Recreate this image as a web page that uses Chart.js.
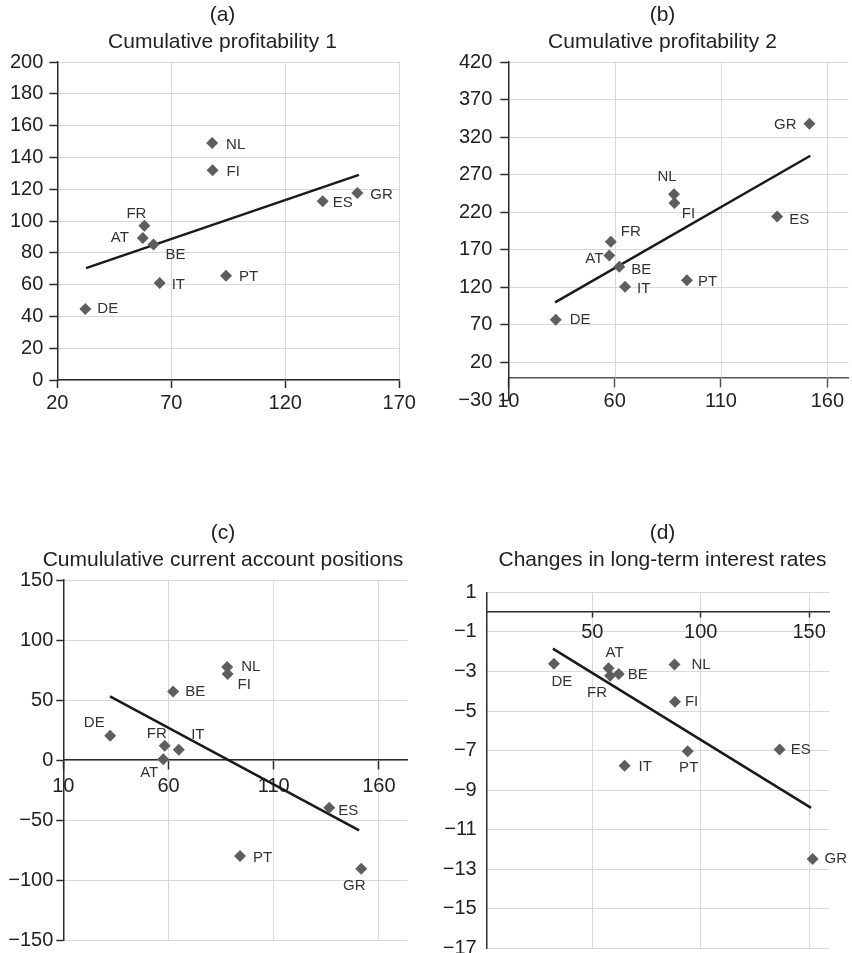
<!DOCTYPE html>
<html>
<head>
<meta charset="utf-8">
<script src="https://cdn.jsdelivr.net/npm/chart.js@4/dist/chart.umd.min.js"></script>
<style>
  html, body { margin: 0; padding: 0; background: #fff; overflow: hidden; }
  #page { position: relative; width: 852px; height: 953px; overflow: hidden; background: #fff; }
  canvas { position: absolute; }
</style>
</head>
<body>
<div id="page">
  <canvas id="chartA" width="445" height="440" style="left:0px;top:0px"></canvas>
  <canvas id="chartB" width="445" height="440" style="left:440px;top:0px"></canvas>
  <canvas id="chartC" width="446" height="460" style="left:0px;top:518px"></canvas>
  <canvas id="chartD" width="445" height="460" style="left:440px;top:518px"></canvas>
</div>
<script>
// Euro-area countries and their common horizontal-axis values
const countries = ['AT', 'BE', 'DE', 'ES', 'FI', 'FR', 'GR', 'IT', 'NL', 'PT'];
const xValues = [57.5, 62.2, 32.3, 136.4, 88.1, 58.2, 151.6, 64.9, 87.9, 94.0];

// Vertical-axis values per panel
const profitability1 = [89.3, 85.3, 44.6, 112.4, 132, 97, 117.6, 61, 149, 65.6];
const profitability2 = [162.5, 147.4, 76.8, 214.5, 232.2, 180.7, 337.8, 120.7, 243.8, 129.6];
const currentAccount = [0.6, 57.2, 20.3, -39.7, 71.7, 11.9, -90.6, 8.6, 77.5, -80];
const rateChanges = [-2.83, -3.13, -2.61, -6.95, -4.53, -3.22, -12.48, -7.76, -2.65, -7.03];

// Fitted trend lines (end points)
const trendA = [[32.6, 70.4], [152.3, 129]];
const trendB = [[32, 100], [152, 295.2]];
const trendC = [[32.2, 53], [150.6, -58.6]];
const trendD = [[31.8, -1.84], [150.9, -9.9]];

// Tick labels
const xTicksA = [20, 70, 120, 170];
const yTicksA = [0, 20, 40, 60, 80, 100, 120, 140, 160, 180, 200];
const xTicksB = [10, 60, 110, 160];
const yTicksB = [-30, 20, 70, 120, 170, 220, 270, 320, 370, 420];
const xTicksC = [10, 60, 110, 160];
const yTicksC = [-150, -100, -50, 0, 50, 100, 150];
const xTicksD = [50, 100, 150];
const yTicksD = [1, -1, -3, -5, -7, -9, -11, -13, -15, -17];

const FONT = "'Liberation Sans', Arial, Helvetica, sans-serif";
const GRID = '#d9d9d9';
const AXIS = '#2b2b2b';
const TEXT = '#222222';

const fmt = v => (v < 0 ? '\u2212' + Math.abs(v) : String(v));

// Country labels next to each marker: [textAlign, dx, dy] in pixels
const pointLabels = {
  id: 'pointLabels',
  afterDatasetsDraw(chart, args, opts) {
    const meta = chart.getDatasetMeta(0);
    const ctx = chart.ctx;
    ctx.save();
    ctx.font = '15px ' + FONT;
    ctx.fillStyle = '#333333';
    ctx.textBaseline = 'middle';
    meta.data.forEach((pt, i) => {
      const p = opts.place[i];
      ctx.textAlign = p[0];
      ctx.fillText(countries[i], pt.x + p[1], pt.y + p[2]);
    });
    ctx.restore();
  }
};

// Vertical grid lines that stop at a given value of the y scale
const shortGrid = {
  id: 'shortGrid',
  beforeDatasetsDraw(chart, args, opts) {
    if (opts.stopAt === undefined) return;
    const { ctx, chartArea, scales } = chart;
    const yEnd = scales.y.getPixelForValue(opts.stopAt);
    ctx.save();
    ctx.strokeStyle = GRID;
    ctx.lineWidth = 1;
    opts.ticks.forEach(v => {
      const x = Math.round(scales.x.getPixelForValue(v)) + 0.5;
      ctx.beginPath();
      ctx.moveTo(x, chartArea.top);
      ctx.lineTo(x, yEnd);
      ctx.stroke();
    });
    ctx.restore();
  }
};

// An invisible scale that only reserves room on one side of the plot
function spacer(axis, position, size) {
  return {
    type: 'linear',
    axis: axis,
    position: position,
    display: true,
    grid: { display: false, drawTicks: false },
    border: { display: false },
    ticks: { display: false },
    afterFit: s => { if (axis === 'x') s.height = size; else s.width = size; }
  };
}

function makePanel(id, p) {
  const pts = xValues.map((x, i) => ({ x: x, y: p.values[i] }));
  const trend = p.trend.map(d => ({ x: d[0], y: d[1] }));
  const scales = {
    x: {
      type: 'linear',
      min: p.xMin,
      max: p.xMax,
      position: p.xAtZero ? { y: 0 } : 'bottom',
      afterBuildTicks: s => { s.ticks = p.xTicks.map(v => ({ value: v })); },
      afterFit: s => { s.height = p.xHeight; },
      grid: {
        color: GRID,
        lineWidth: 1,
        drawOnChartArea: !p.shortGrid,
        tickLength: p.xTickLen,
        tickColor: p.xAxisColor || AXIS,
        tickWidth: 1.5
      },
      border: { color: p.xAxisColor || AXIS, width: 1.5 },
      ticks: {
        color: TEXT,
        font: { family: FONT, size: 20 },
        padding: p.xPad,
        maxRotation: 0,
        autoSkip: false,
        callback: fmt
      }
    },
    y: {
      type: 'linear',
      min: p.yMin,
      max: p.yMax,
      position: 'left',
      afterBuildTicks: s => { s.ticks = p.yTicks.map(v => ({ value: v })); },
      afterFit: s => { s.width = p.yWidth; },
      grid: {
        color: c => (p.hideGridAt !== undefined && c.tick && c.tick.value === p.hideGridAt) ? 'rgba(0,0,0,0)' : GRID,
        lineWidth: 1,
        drawTicks: p.yTickLen > 0,
        tickLength: p.yTickLen,
        tickColor: AXIS,
        tickWidth: 1.5
      },
      border: { color: AXIS, width: 1.5 },
      ticks: {
        color: TEXT,
        font: { family: FONT, size: 20 },
        padding: p.yPad,
        autoSkip: false,
        callback: fmt
      }
    },
    rightSpace: spacer('y', 'right', p.rightSpace)
  };
  if (p.xAtZero) scales.bottomSpace = spacer('x', 'bottom', p.bottomSpace);

  return new Chart(document.getElementById(id), {
    type: 'scatter',
    data: {
      datasets: [
        {
          data: pts,
          xAxisID: 'x',
          yAxisID: 'y',
          pointStyle: 'rectRot',
          pointRadius: 6,
          pointBorderWidth: 0,
          backgroundColor: '#5e5e5e',
          borderColor: '#5e5e5e',
          order: 0
        },
        {
          data: trend,
          xAxisID: 'x',
          yAxisID: 'y',
          showLine: true,
          pointRadius: 0,
          borderColor: '#1a1a1a',
          borderWidth: 2.5,
          order: 1
        }
      ]
    },
    options: {
      responsive: false,
      animation: false,
      events: [],
      layout: { padding: 0 },
      plugins: {
        legend: { display: false },
        tooltip: { enabled: false },
        title: {
          display: true,
          text: p.title,
          color: TEXT,
          font: { family: FONT, size: 21, weight: 'normal', lineHeight: 1.27 },
          padding: { top: 1.7, bottom: p.titleGap }
        },
        pointLabels: { place: p.place },
        shortGrid: p.shortGrid || {}
      },
      scales: scales
    },
    plugins: [pointLabels, shortGrid]
  });
}

makePanel('chartA', {
  title: ['(a)', 'Cumulative profitability 1'],
  values: profitability1, trend: trendA,
  xMin: 20, xMax: 170, yMin: 0, yMax: 200,
  xTicks: xTicksA, yTicks: yTicksA,
  xAtZero: false, xHeight: 60, xTickLen: 8, xPad: 3,
  yWidth: 57.3, yTickLen: 8, yPad: 6,
  rightSpace: 45.7, titleGap: 7,
  place: [['right', -14, 0], ['center', 22, 10], ['left', 12, 0], ['left', 10, 2], ['left', 14, 2],
          ['center', -8, -12], ['left', 13, 2], ['left', 12, 2], ['left', 14, 2], ['left', 13, 1]]
});

makePanel('chartB', {
  title: ['(b)', 'Cumulative profitability 2'],
  values: profitability2, trend: trendB,
  xMin: 10, xMax: 170, yMin: -30, yMax: 420,
  xTicks: xTicksB, yTicks: yTicksB,
  xAtZero: true, xHeight: 0, bottomSpace: 40, xTickLen: 9, xPad: 3, xAxisColor: '#555555',
  yWidth: 68.3, yTickLen: 8, yPad: 8,
  rightSpace: 36.4, titleGap: 7, hideGridAt: -30,
  shortGrid: { stopAt: 0, ticks: [60, 110, 160] },
  place: [['right', -6, 3], ['left', 12, 3], ['left', 14, 0], ['left', 12, 3], ['center', 14, 11],
          ['center', 20, -10], ['right', -13, 1], ['left', 12, 2], ['center', -7, -18], ['left', 11, 2]]
});

makePanel('chartC', {
  title: ['(c)', 'Cumululative current account positions'],
  values: currentAccount, trend: trendC,
  xMin: 10, xMax: 173.5, yMin: -150, yMax: 150,
  xTicks: xTicksC, yTicks: yTicksC,
  xAtZero: true, xHeight: 0, bottomSpace: 38, xTickLen: 9, xPad: 5,
  yWidth: 63.3, yTickLen: 7, yPad: 3,
  rightSpace: 38.7, titleGap: 7,
  place: [['center', -14, 14], ['left', 12, 0], ['center', -16, -13], ['left', 9, 3], ['left', 10, 11],
          ['center', -8, -12], ['center', -7, 17], ['center', 19, -15], ['left', 14, 0], ['left', 13, 2]]
});

makePanel('chartD', {
  title: ['(d)', 'Changes in long-term interest rates'],
  values: rateChanges, trend: trendD,
  xMin: 1.3, xMax: 159.3, yMin: -17, yMax: 1,
  xTicks: xTicksD, yTicks: yTicksD,
  xAtZero: true, xHeight: 0, bottomSpace: 29.7, xTickLen: 5, xPad: 3,
  yWidth: 46.7, yTickLen: 0, yPad: 10,
  rightSpace: 55.7, titleGap: 19.4,
  place: [['center', 6, -15], ['left', 9, 1], ['center', 8, 18], ['left', 11, 0], ['left', 10, 0],
          ['center', -13, 17], ['left', 12, 0], ['left', 14, 1], ['left', 17, 0], ['center', 1, 17]]
});
</script>
</body>
</html>
